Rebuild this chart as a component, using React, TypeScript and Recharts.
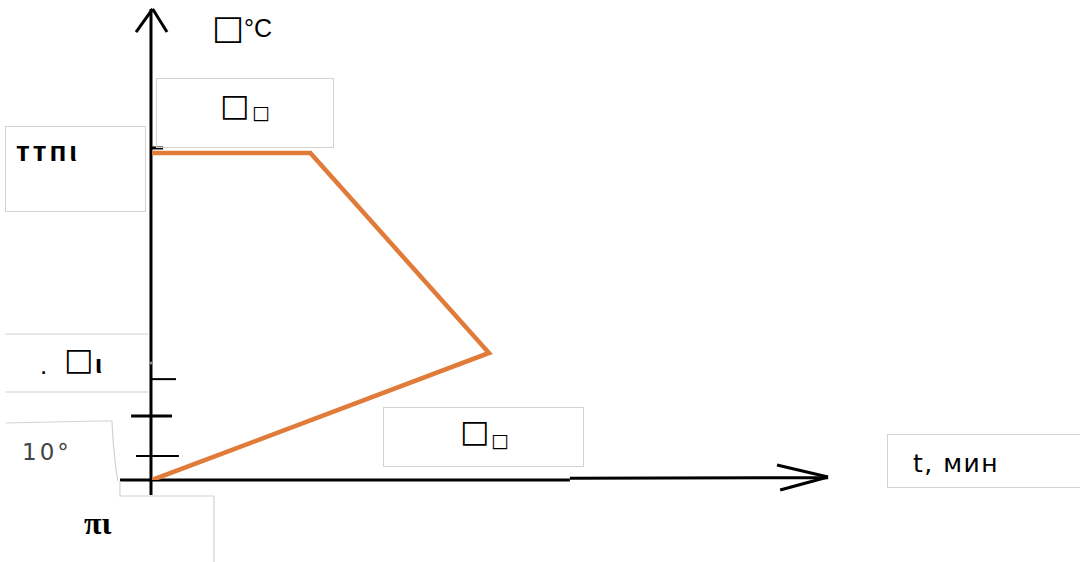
import React from "react";
import { LineChart, Line, XAxis, YAxis, ReferenceLine } from "recharts";

// time (min) and temperature (°C) of the heating / holding / cooling curve
const times = [0, 50, 23.5, 0];
const temps = [0, 272, 700, 700];

const data = times.map((t, i) => ({ t, T: temps[i] }));

const W = 1080;
const H = 562;
const ORANGE = "#E07B39";
const BOX = "#d2d2d2";

const axisSegs: { x: number; y: number }[][] = [
  // y axis
  [{ x: -0.15, y: -32 }, { x: -0.15, y: 1008.6 }],
  // y arrow head
  [{ x: -2.37, y: 959.3 }, { x: 0.1, y: 1008.6 }],
  [{ x: 0.1, y: 1008.6 }, { x: 2.23, y: 959.3 }],
  // x axis
  [{ x: -4.75, y: 0 }, { x: 62, y: 0 }],
  [{ x: 62, y: 3.5 }, { x: 100.3, y: 5 }],
  // x arrow head
  [{ x: 92.73, y: 32.1 }, { x: 100.3, y: 6.4 }],
  [{ x: 93.2, y: -21.4 }, { x: 100.3, y: 6.4 }],
];

const tickSegs: { seg: { x: number; y: number }[]; w: number }[] = [
  { seg: [{ x: 0, y: 711 }, { x: 1.65, y: 711 }], w: 3 },
  { seg: [{ x: 0, y: 216 }, { x: 3.56, y: 216 }], w: 2 },
  { seg: [{ x: -3.1, y: 137 }, { x: 2.97, y: 137 }], w: 3 },
  { seg: [{ x: -2.37, y: 51.4 }, { x: 4.0, y: 51.4 }], w: 2 },
];

const sans = "'Liberation Sans', 'DejaVu Sans', sans-serif";
const dejavu = "'DejaVu Sans', sans-serif";

function Box({ left, top, width, height }: { left: number; top: number; width: number; height: number }) {
  return (
    <div
      style={{
        position: "absolute",
        left,
        top,
        width,
        height,
        border: `1px solid ${BOX}`,
        boxSizing: "border-box",
      }}
    />
  );
}

function T({ left, top, size, children, weight, family, color, spacing }: any) {
  return (
    <span
      style={{
        position: "absolute",
        left,
        top,
        fontSize: size,
        lineHeight: 1,
        fontFamily: family || sans,
        fontWeight: weight || "normal",
        color: color || "#000",
        whiteSpace: "nowrap",
        letterSpacing: spacing || 0,
      }}
    >
      {children}
    </span>
  );
}

export default function App() {
  return (
    <div style={{ position: "absolute", left: 0, top: 0, width: W, height: H, background: "#fff", overflow: "hidden" }}>
      <LineChart width={W} height={H} data={data} margin={{ top: 13, right: 254, bottom: 82, left: 152 }}>
        <XAxis type="number" dataKey="t" domain={[0, 100]} hide allowDataOverflow />
        <YAxis type="number" domain={[0, 1000]} hide allowDataOverflow />
        {axisSegs.map((s, i) => (
          <ReferenceLine key={"a" + i} segment={s} stroke="#000" strokeWidth={3} ifOverflow="visible" />
        ))}
        {tickSegs.map((s, i) => (
          <ReferenceLine key={"k" + i} segment={s.seg} stroke="#000" strokeWidth={s.w} ifOverflow="visible" />
        ))}
        <Line
          type="linear"
          dataKey="T"
          stroke={ORANGE}
          strokeWidth={4.5}
          dot={false}
          isAnimationActive={false}
        />
      </LineChart>

      {/* annotation boxes */}
      <svg width={W} height={H} style={{ position: "absolute", left: 0, top: 0, pointerEvents: "none" }}>
        <polyline points="6,423 100,421 112,421 113,440 116,470 118,481" fill="none" stroke={BOX} strokeWidth={1.2} />
        <polyline points="120,481 120,496 214,496 214,562" fill="none" stroke={BOX} strokeWidth={1.2} />
        <line x1={5} y1={334} x2={148} y2={334} stroke={BOX} strokeWidth={1.2} />
        <line x1={5} y1={392} x2={148} y2={392} stroke={BOX} strokeWidth={1.2} />
        <circle cx={151} cy={363} r={1.5} fill="#8a90a0" />
      </svg>

      <Box left={156} top={78} width={178} height={70} />
      <Box left={5} top={126} width={141} height={86} />
      <Box left={383} top={407} width={201} height={60} />
      <Box left={887} top={434} width={210} height={54} />

      <T left={212} top={10} size={34} weight="bold" family={dejavu}>□</T>
      <T left={244} top={16} size={25}>°C</T>

      <T left={220} top={90} size={31} weight="bold" family={dejavu}>□</T>
      <T left={252} top={103} size={19} weight="bold" family={dejavu}>□</T>

      <T left={460} top={416} size={31} weight="bold" family={dejavu}>□</T>
      <T left={491} top={431} size={19} weight="bold" family={dejavu}>□</T>

      <T left={16} top={138} size={28} weight="bold" family={sans} spacing={3}>ттпι</T>

      <T left={40} top={352} size={26}>.</T>
      <T left={64} top={344} size={31} weight="bold" family={dejavu}>□</T>
      <T left={95} top={351} size={26} weight="bold">ι</T>

      <T left={22} top={441} size={23} color="#444" family={dejavu} spacing={3}>10°</T>

      <T left={84} top={507} size={32} weight="bold" family="'Liberation Serif', serif">πι</T>

      <T left={913} top={451} size={25} family={dejavu} spacing={1.5}>t, мин</T>
    </div>
  );
}
